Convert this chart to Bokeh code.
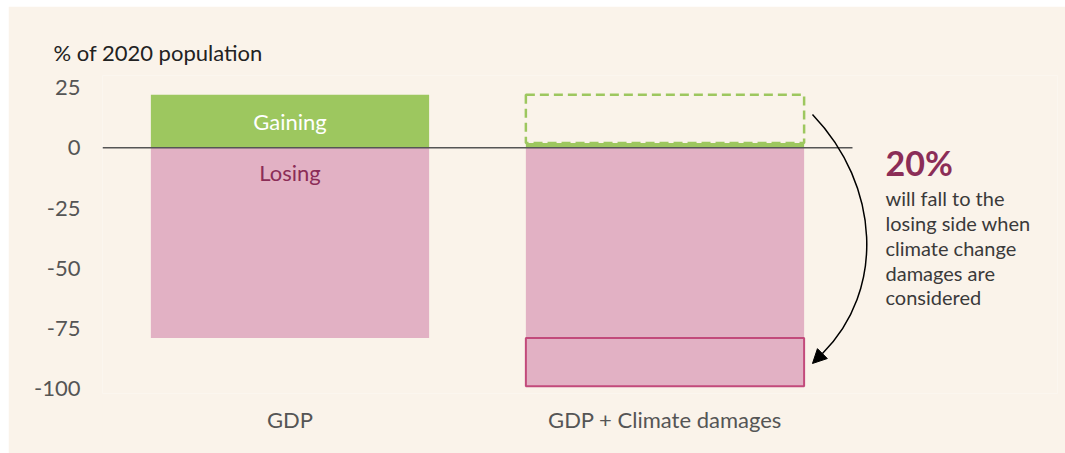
from bokeh.plotting import figure
from bokeh.layouts import column, row
from bokeh.models import FixedTicker, Label, Arrow, NormalHead, Range1d, Spacer
from bokeh.embed import file_html
from bokeh.resources import INLINE
from bokeh.core.properties import value

# ---- data ----
categories = ["GDP", "GDP + Climate damages"]
gaining = [22, 2]          # % of 2020 population gaining
losing = [-79, -99]        # % of 2020 population losing
y_ticks = [25, 0, -25, -50, -75, -100]
y_tick_labels = ["25", "0", "-25", "-50", "-75", "-100"]
headline = "20%"
note_lines = ["will fall to the", "losing side when", "climate change",
              "damages are", "considered"]

FONT = "Lato"
GREEN = "#9dc75f"
PINK = "#e2b1c4"
CRIMSON = "#c24a7b"
MAGENTA = "#8b2d57"
BG = "#faf3ea"
GREY = "#555555"

xs = [1, 2]
BW = 0.742

p = figure(width=1057, height=447, x_range=Range1d(0.5, 3.0467), y_range=Range1d(-102, 30),
           output_backend="svg", toolbar_location=None,
           min_border_left=94, min_border_right=8, min_border_top=69, min_border_bottom=60)
p.background_fill_color = BG
p.border_fill_color = BG
p.outline_line_color = None
p.grid.visible = False

# y-axis title as plot title
p.title.text = "% of 2020 population"
p.title.align = "left"
p.title.offset = -49
p.title.standoff = 19
p.title.text_font = FONT
p.title.text_font_size = "22px"
p.title.text_font_style = "normal"
p.title.text_color = "#222222"

# bars
p.vbar(x=xs, bottom=0, top=gaining, width=BW, fill_color=GREEN, line_color=None)
p.vbar(x=xs, bottom=losing, top=0, width=BW, fill_color=PINK, line_color=None)

# dashed outline: gaining share lost when climate damages are counted
p.vbar(x=[xs[1]], bottom=[gaining[1]], top=[gaining[0]], width=BW, fill_color=None,
       line_color=GREEN, line_width=2.5, line_dash="9 5")
# solid outline: extra losing share
p.vbar(x=[xs[1]], bottom=[losing[1]], top=[losing[0]], width=BW, fill_color=None,
       line_color=CRIMSON, line_width=2)

# zero line
p.segment(x0=[0.5], x1=[2.5], y0=[0], y1=[0], line_color=GREY, line_width=1.6)

# in-bar labels
p.add_layout(Label(x=xs[0], y=gaining[0] / 2, text="Gaining", text_align="center",
                   text_baseline="middle", text_color="white", text_font=FONT,
                   text_font_size="22px"))
p.add_layout(Label(x=xs[0], y=-10.3, text="Losing", text_align="center",
                   text_baseline="middle", text_color=MAGENTA, text_font=FONT,
                   text_font_size="22px"))

# annotation
p.add_layout(Label(x=2.588, y=-6.1, text=headline, text_align="left",
                   text_baseline="alphabetic", text_color=MAGENTA, text_font=FONT,
                   text_font_style="bold", text_font_size="34px"))
note_y = [-21.0, -31.2, -41.4, -51.8, -62.0]
p.text(x=[2.588] * len(note_lines), y=note_y, text=note_lines, text_align="left",
       text_baseline="alphabetic", text_color="#3a3a3a", text_font=value(FONT),
       text_font_size="20px")

# curved arrow
p.bezier(x0=[2.3933], y0=[13.82], cx0=[2.5747], cy0=[-15.65], cx1=[2.588], cy1=[-59.24],
         x1=[2.42], y1=[-85.39], line_color="black", line_width=1.5)
p.add_layout(Arrow(end=NormalHead(size=14, fill_color="black", line_color="black"),
                   x_start=2.42, y_start=-85.39, x_end=2.3933, y_end=-89.54,
                   line_color="black", line_width=1.5))

# axes
p.yaxis.ticker = FixedTicker(ticks=y_ticks)
p.yaxis.major_label_overrides = {t: s for t, s in zip(y_ticks, y_tick_labels)}
p.yaxis.axis_line_color = None
p.yaxis.major_tick_line_color = None
p.yaxis.minor_tick_line_color = None
p.yaxis.major_tick_out = 0
p.yaxis.major_tick_in = 0
p.yaxis.major_label_standoff = 22
p.yaxis.major_label_text_font = FONT
p.yaxis.major_label_text_font_size = "22px"
p.yaxis.major_label_text_color = GREY

p.xaxis.ticker = FixedTicker(ticks=xs)
p.xaxis.major_label_overrides = {x: c for x, c in zip(xs, categories)}
p.xaxis.axis_line_color = None
p.xaxis.major_tick_line_color = None
p.xaxis.minor_tick_line_color = None
p.xaxis.major_tick_out = 0
p.xaxis.major_tick_in = 0
p.xaxis.major_label_standoff = 12
p.xaxis.major_label_text_font = FONT
p.xaxis.major_label_text_font_size = "22px"
p.xaxis.major_label_text_color = GREY

layout = column(Spacer(height=6), row(Spacer(width=8), p))
open("out.html", "w").write(file_html(layout, INLINE))
